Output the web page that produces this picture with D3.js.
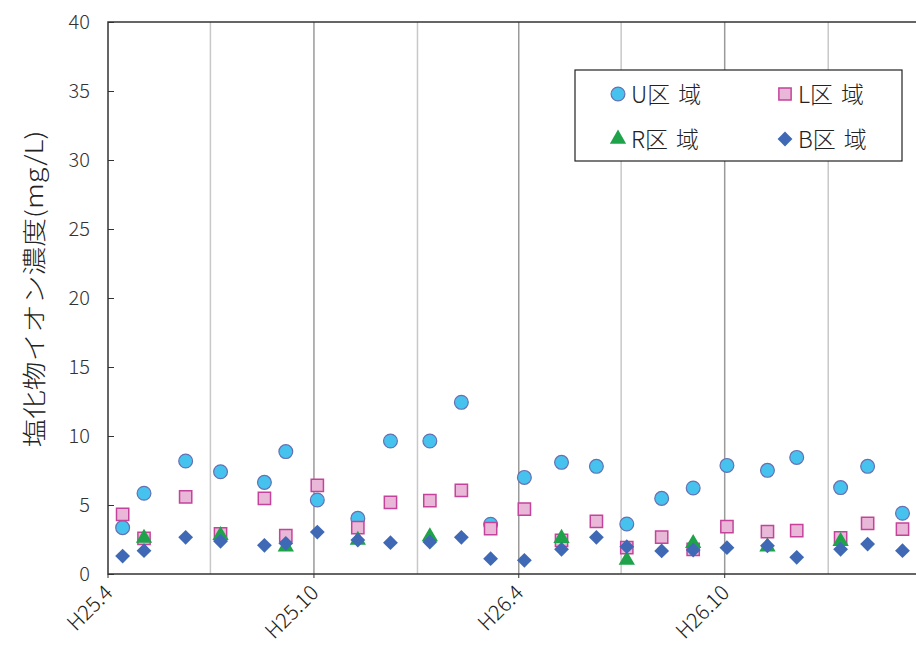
<!DOCTYPE html>
<html>
<head>
<meta charset="utf-8">
<script src="https://cdn.jsdelivr.net/npm/d3@7"></script>
<style>
  body { margin: 0; background: #fff; }
  text { font-family: "Noto Sans CJK JP", "Noto Sans", sans-serif; font-weight: 300; }
</style>
</head>
<body>
<script>
// sampling dates (survey days)
const dates = ["2013-04-14", "2013-05-03", "2013-06-09", "2013-07-10", "2013-08-18", "2013-09-06",
  "2013-10-04", "2013-11-09", "2013-12-08", "2014-01-12", "2014-02-09", "2014-03-07",
  "2014-04-06", "2014-05-09", "2014-06-09", "2014-07-06", "2014-08-06", "2014-09-03",
  "2014-10-03", "2014-11-08", "2014-12-04", "2015-01-12", "2015-02-05", "2015-03-08"];

const uArea = [3.36, 5.85, 8.19, 7.41, 6.64, 8.87, 5.36, 4.03, 9.64, 9.64, 12.44, 3.6,
  7.0, 8.09, 7.8, 3.62, 5.48, 6.23, 7.87, 7.51, 8.45, 6.26, 7.8, 4.4];
const lArea = [4.32, 2.59, 5.58, 2.9, 5.48, 2.78, 6.42, 3.36, 5.19, 5.31, 6.06, 3.29,
  4.71, 2.44, 3.82, 1.91, 2.68, 1.79, 3.43, 3.07, 3.14, 2.61, 3.67, 3.26];
const rArea = [null, 2.6, null, 2.8, null, 1.98, null, 2.46, null, 2.71, null, null,
  null, 2.59, null, 1.01, null, 2.22, null, 1.98, null, 2.37, null, null];
const bArea = [1.30, 1.69, 2.66, 2.37, 2.08, 2.22, 3.04, 2.46, 2.27, 2.32, 2.66, 1.11,
  0.99, 1.79, 2.66, 1.98, 1.67, 1.74, 1.91, 2.05, 1.21, 1.79, 2.17, 1.69];

const yTicks = [0, 5, 10, 15, 20, 25, 30, 35, 40];
const xLabelDates = ["2013-04-01", "2013-10-01", "2014-04-01", "2014-10-01"];
const gridDates = ["2013-07-01", "2013-10-01", "2014-01-01", "2014-04-01", "2014-07-01", "2014-10-01", "2015-01-01"];

const seriesNames = ["U区域", "L区域", "R区域", "B区域"];

const width = 916, height = 651;
const plotLeft = 108, plotRight = 916, plotTop = 22, plotBottom = 574;

const parse = d3.timeParse("%Y-%m-%d");

const x = d3.scaleTime()
  .domain([parse("2013-04-01"), parse("2015-03-20")])
  .range([plotLeft, plotRight]);
const y = d3.scaleLinear().domain([0, 40]).range([plotBottom, plotTop]);

const svg = d3.select("body").append("svg")
  .attr("width", width)
  .attr("height", height);

// vertical gridlines every 3 months, darker ones at Apr / Oct
svg.append("g")
  .selectAll("line")
  .data(gridDates.map(parse))
  .join("line")
  .attr("x1", d => x(d)).attr("x2", d => x(d))
  .attr("y1", plotTop).attr("y2", plotBottom)
  .attr("stroke", d => (d.getMonth() === 3 || d.getMonth() === 9) ? "#9a9a9a" : "#c8c8c8")
  .attr("stroke-width", 1.5);

// y axis with inward ticks
const yAxis = svg.append("g")
  .attr("transform", `translate(${plotLeft},0)`)
  .call(d3.axisRight(y).tickValues(yTicks).tickSize(6).tickFormat(""));
yAxis.select(".domain").remove();
yAxis.selectAll("line").attr("stroke", "#333");

svg.append("g")
  .selectAll("text")
  .data(yTicks)
  .join("text")
  .attr("x", 90)
  .attr("y", d => y(d))
  .attr("dy", "0.36em")
  .attr("text-anchor", "end")
  .attr("font-size", 20)
  .attr("fill", "#333")
  .text(d => d);

// x labels
const xl = svg.append("g")
  .selectAll("g")
  .data(xLabelDates.map(parse))
  .join("g")
  .attr("transform", d => `translate(${x(d) + 6},${594}) rotate(-45)`);
xl.append("text")
  .attr("text-anchor", "end")
  .attr("font-size", 21)
  .attr("fill", "#222")
  .text(d => "H" + (d.getFullYear() - 1988) + "." + (d.getMonth() + 1));

svg.append("g")
  .selectAll("line")
  .data(xLabelDates.map(parse))
  .join("line")
  .attr("x1", d => x(d)).attr("x2", d => x(d))
  .attr("y1", plotBottom).attr("y2", plotBottom + 4)
  .attr("stroke", "#333");

// frame
svg.append("path")
  .attr("d", `M${plotRight},${plotTop}H${plotLeft}V${plotBottom}H${plotRight}`)
  .attr("fill", "none")
  .attr("stroke", "#333")
  .attr("stroke-width", 1.5);

// y title
svg.append("text")
  .attr("transform", `translate(43,${289}) rotate(-90)`)
  .attr("text-anchor", "middle")
  .attr("font-size", 24)
  .attr("fill", "#222")
  .attr("textLength", 317)
  .attr("lengthAdjust", "spacingAndGlyphs")
  .text("塩化物イオン濃度(mg/L)");

// markers (diamond = square turned 45deg)
const styles = [
  { symbol: d3.symbolCircle, size: 150, rot: 0, fill: "#45c3ee", stroke: "#6570b3", sw: 1.2 },
  { symbol: d3.symbolSquare, size: 150, rot: 0, fill: "#e9b7d7", stroke: "#c4449c", sw: 1.5 },
  { symbol: d3.symbolTriangle, size: 115, rot: 0, fill: "#1ea24a", stroke: "none", sw: 0 },
  { symbol: d3.symbolSquare, size: 110, rot: 45, fill: "#3f69b5", stroke: "none", sw: 0 }
];
const allSeries = [uArea, lArea, rArea, bArea];

allSeries.forEach((values, i) => {
  const st = styles[i];
  const pts = values.map((v, j) => ({ date: parse(dates[j]), v: v })).filter(p => p.v != null);
  svg.append("g")
    .selectAll("path")
    .data(pts)
    .join("path")
    .attr("transform", d => `translate(${x(d.date)},${y(d.v)}) rotate(${st.rot})`)
    .attr("d", d3.symbol().type(st.symbol).size(st.size))
    .attr("fill", st.fill)
    .attr("stroke", st.stroke)
    .attr("stroke-width", st.sw);
});

// legend
const legend = svg.append("g");
legend.append("rect")
  .attr("x", 575).attr("y", 70)
  .attr("width", 327).attr("height", 91)
  .attr("fill", "#fff")
  .attr("stroke", "#222")
  .attr("stroke-width", 1.2);

const legendPos = [[618, 94], [785, 94], [618, 139], [785, 139]];
seriesNames.forEach((name, i) => {
  const st = styles[i];
  const [lx, ly] = legendPos[i];
  legend.append("path")
    .attr("transform", `translate(${lx},${ly}) rotate(${st.rot})`)
    .attr("d", d3.symbol().type(st.symbol).size(st.size))
    .attr("fill", st.fill)
    .attr("stroke", st.stroke)
    .attr("stroke-width", st.sw);
  const t = legend.append("text")
    .attr("x", lx + 13)
    .attr("y", ly + 9)
    .attr("font-size", 23)
    .attr("fill", "#222");
  t.append("tspan").text(name.slice(0, 2));
  t.append("tspan").attr("dx", 8).text(name.slice(2));
});
</script>
</body>
</html>
